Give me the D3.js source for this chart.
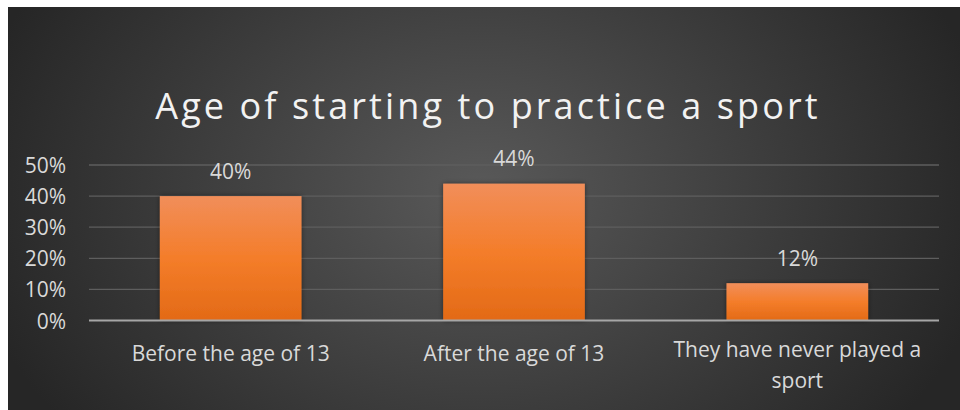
<!DOCTYPE html>
<html><head><meta charset="utf-8">
<script src="https://cdn.jsdelivr.net/npm/d3@7"></script>
<style>
html,body{margin:0;padding:0;background:#fff;}
svg{display:block;}
text{font-family:"Open Sans",Lato,sans-serif;}
</style></head>
<body>
<script>
const categories = ["Before the age of 13", "After the age of 13", "They have never played a sport"];
const values = [0.40, 0.44, 0.12];
const valueLabels = ["40%", "44%", "12%"];
const yTicks = [0, 0.1, 0.2, 0.3, 0.4, 0.5];
const title = "Age of starting to practice a sport";

const W = 960, H = 410;
const svg = d3.select("body").append("svg").attr("width", W).attr("height", H);
const defs = svg.append("defs");

const bg = defs.append("radialGradient").attr("id","bg")
  .attr("gradientUnits","userSpaceOnUse").attr("cx",480).attr("cy",190).attr("r",520)
  .attr("gradientTransform","translate(480,190) scale(1,0.75) translate(-480,-190)");
bg.append("stop").attr("offset","0%").attr("stop-color","#595959");
bg.append("stop").attr("offset","100%").attr("stop-color","#262626");

const bar = defs.append("linearGradient").attr("id","bar").attr("x1",0).attr("y1",0).attr("x2",0).attr("y2",1);
bar.append("stop").attr("offset","0%").attr("stop-color","#f18e5a");
bar.append("stop").attr("offset","50%").attr("stop-color","#f47d2a");
bar.append("stop").attr("offset","100%").attr("stop-color","#e36a16");

const sh = defs.append("filter").attr("id","sh").attr("x","-10%").attr("y","-10%").attr("width","120%").attr("height","120%");
sh.append("feDropShadow").attr("dx",0).attr("dy",0).attr("stdDeviation",2.5).attr("flood-color","#000").attr("flood-opacity",0.45);

svg.append("rect").attr("x",8).attr("y",7).attr("width",W-8).attr("height",H-7).attr("fill","url(#bg)");

const x0 = 89, x1 = 939, yBase = 320.5, yTop = 165;
const x = d3.scaleBand().domain(categories).range([x0, x1]).paddingInner(0.5).paddingOuter(0.25);
const y = d3.scaleLinear().domain([0, 0.5]).range([yBase, yTop]);

// gridlines
svg.append("g").selectAll("line").data(yTicks.filter(d => d > 0)).join("line")
  .attr("x1", x0).attr("x2", x1).attr("y1", d => y(d)).attr("y2", d => y(d))
  .attr("stroke", "#5e5e5e").attr("stroke-width", 1.3);

// y axis labels
const yAxis = d3.axisLeft(y).tickValues(yTicks).tickFormat(d3.format(".0%")).tickSize(0).tickPadding(0);
const ya = svg.append("g").attr("transform", `translate(66,0)`).call(yAxis);
ya.select(".domain").remove();
ya.selectAll("text").attr("fill","#d9d9d9").style("font-size","21px").attr("dy","0.36em");

// bars
svg.append("g").selectAll("rect").data(values).join("rect")
  .attr("x", (d,i) => x(categories[i])).attr("width", x.bandwidth())
  .attr("y", d => y(d)).attr("height", d => yBase - y(d))
  .attr("fill","url(#bar)").attr("filter","url(#sh)");

// baseline axis
svg.append("line").attr("x1", x0).attr("x2", x1).attr("y1", yBase).attr("y2", yBase)
  .attr("stroke","#a6a6a6").attr("stroke-width",2);

// value labels
svg.append("g").selectAll("text").data(values).join("text")
  .attr("x", (d,i) => x(categories[i]) + x.bandwidth()/2).attr("y", d => y(d) - 17.5)
  .attr("text-anchor","middle").attr("fill","#d9d9d9").style("font-size","21px")
  .text((d,i) => valueLabels[i]);

// category labels (wrap)
const catG = svg.append("g");
const wrapLines = [["Before the age of 13"], ["After the age of 13"], ["They have never played a", "sport"]];
categories.forEach((c, i) => {
  const t = catG.append("text").attr("text-anchor","middle").attr("fill","#d9d9d9").style("font-size","21px");
  wrapLines[i].forEach((ln, j) => {
    t.append("tspan").attr("x", x(c) + x.bandwidth()/2).attr("y", (i === 2 ? 357 : 361) + j*31).text(ln);
  });
});

// title
svg.append("text").attr("x", 488).attr("y", 119).attr("text-anchor","middle")
  .attr("fill","#f2f2f2").style("font-size","36px").style("letter-spacing","3.1px")
  .text(title);
</script>
</body></html>
